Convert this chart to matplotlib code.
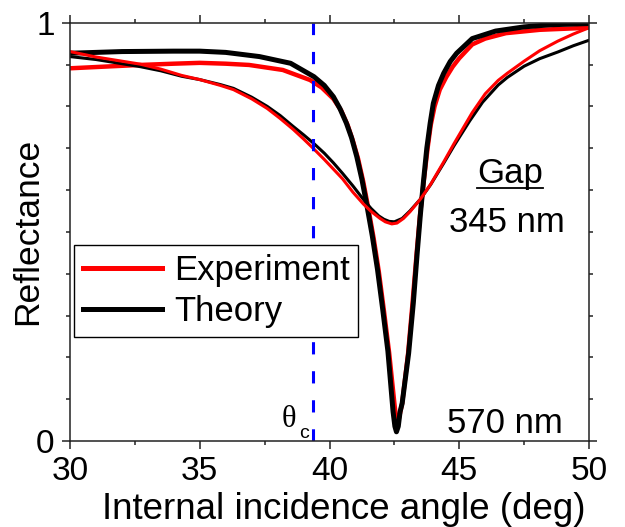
import matplotlib
matplotlib.use("Agg")
import matplotlib.pyplot as plt
from matplotlib.ticker import MultipleLocator, FixedLocator
from matplotlib.lines import Line2D

# ---- data ----
theta_570_th = [30, 32, 34, 35, 36, 37.3, 38.5, 39.4, 39.8, 40.15, 40.4, 40.65, 40.85, 41.05, 41.25, 41.45,
                41.65, 41.85, 42.05, 42.25, 42.45, 42.52, 42.58, 42.65, 42.72, 42.8, 43.05, 43.23,
                43.38, 43.5, 43.62, 43.75, 43.88, 44.0, 44.2, 44.4, 44.65, 44.9, 45.5, 46.4, 47.5, 48.5, 50]
R_570_th = [0.927, 0.931, 0.932, 0.932, 0.929, 0.919, 0.903, 0.871, 0.85, 0.823, 0.795, 0.76, 0.725, 0.68, 0.625, 0.56,
            0.49, 0.41, 0.315, 0.215, 0.07, 0.035, 0.022, 0.035, 0.07, 0.09, 0.21, 0.33,
            0.45, 0.54, 0.62, 0.70, 0.76, 0.807, 0.85, 0.879, 0.907, 0.927, 0.962, 0.98, 0.99, 0.995, 0.998]

theta_570_exp = [30, 31, 32.7, 34, 35, 36, 36.9, 38.2, 39.25, 39.7, 40.15, 40.45, 40.7, 40.9, 41.1, 41.3, 41.5,
                 41.7, 41.9, 42.1, 42.3, 42.5, 42.58, 42.66, 42.8, 43.03, 43.2, 43.36, 43.48, 43.62,
                 43.78, 43.9, 44.05, 44.25, 44.5, 44.75, 45.0, 45.5, 46.0, 46.8, 48.1, 50]
R_570_exp = [0.891, 0.894, 0.899, 0.902, 0.904, 0.902, 0.899, 0.887, 0.863, 0.845, 0.818, 0.79, 0.755, 0.718, 0.675, 0.62, 0.555,
             0.485, 0.405, 0.31, 0.21, 0.09, 0.045, 0.05, 0.09, 0.21, 0.33, 0.45, 0.535, 0.615,
             0.70, 0.755, 0.80, 0.84, 0.87, 0.895, 0.915, 0.948, 0.962, 0.975, 0.983, 0.988]

theta_345_th = [30, 31, 32, 32.7, 33.5, 34.3, 35.0, 35.8, 36.3, 37.0, 37.6, 38.1, 38.6, 39.0, 39.4,
                39.8, 40.15, 40.5, 40.9, 41.3, 41.6, 41.9, 42.1, 42.3, 42.5, 42.8, 43.1, 43.5,
                43.9, 44.4, 44.8, 45.4, 45.9, 46.5, 46.85, 47.5, 48.1, 48.8, 49.4, 50]
R_345_th = [0.919, 0.912, 0.902, 0.895, 0.885, 0.872, 0.864, 0.852, 0.843, 0.822, 0.800, 0.778, 0.752, 0.732, 0.711,
            0.688, 0.665, 0.64, 0.61, 0.578, 0.556, 0.538, 0.53, 0.525, 0.524, 0.532, 0.55, 0.578,
            0.613, 0.664, 0.706, 0.765, 0.81, 0.851, 0.869, 0.896, 0.914, 0.93, 0.945, 0.958]

theta_345_exp = [30, 31, 32, 32.7, 33.5, 34.3, 35.0, 35.8, 36.3, 37.0, 37.6, 38.1, 38.6, 39.0, 39.4,
                 39.8, 40.15, 40.5, 40.9, 41.3, 41.6, 41.95, 42.15, 42.4, 42.6, 42.85, 43.1, 43.5,
                 43.9, 44.4, 44.8, 45.5, 46.0, 46.5, 46.85, 47.5, 48.1, 48.8, 49.4, 50]
R_345_exp = [0.931, 0.918, 0.908, 0.901, 0.889, 0.874, 0.864, 0.85, 0.84, 0.818, 0.795, 0.771, 0.745, 0.722, 0.698,
             0.673, 0.650, 0.627, 0.595, 0.567, 0.549, 0.532, 0.524, 0.519, 0.521, 0.532, 0.548, 0.578,
             0.614, 0.667, 0.711, 0.785, 0.83, 0.862, 0.879, 0.908, 0.933, 0.956, 0.973, 0.988]

theta_c = 39.36
x_ticks = [30, 35, 40, 45, 50]
y_ticks = [0, 1]
legend_labels = ["Experiment", "Theory"]

# ---- figure ----
plt.rcParams['font.family'] = ['Liberation Sans', 'DejaVu Sans']
fig = plt.figure(figsize=(6.25, 5.27), dpi=100)
ax = fig.add_axes([70/625, 1 - 441/527, (589-70)/625, (441-22.7)/527])

kw = dict(solid_joinstyle='round', solid_capstyle='round')
ax.plot(theta_570_exp, R_570_exp, color='#ff0000', lw=3.2, **kw)
ax.plot(theta_570_th, R_570_th, color='black', lw=3.6, **kw)
ax.plot(theta_345_th, R_345_th, color='black', lw=2.2, **kw)
ax.plot(theta_345_exp, R_345_exp, color='#ff0000', lw=2.2, **kw)

ax.axvline(theta_c, color='#0000ff', lw=2.2, dashes=(4.0, 5.5))

ax.set_xlim(30, 50)
ax.set_ylim(0, 1)
ax.xaxis.set_major_locator(FixedLocator(x_ticks))
ax.xaxis.set_minor_locator(MultipleLocator(2.5))
ax.yaxis.set_major_locator(FixedLocator(y_ticks))
ax.yaxis.set_minor_locator(MultipleLocator(0.1))
ax.set_yticklabels(['0', '1'])

ax.tick_params(which='both', direction='out', top=True, right=True, width=1.1, labelsize=24, color='#222222')
ax.tick_params(which='major', length=6, pad=5)
ax.tick_params(which='minor', length=3)
for s in ax.spines.values():
    s.set_linewidth(1.1)
    s.set_color('#222222')

ax.set_xlabel('Internal incidence angle (deg)', fontsize=26.5)
ax.xaxis.set_label_coords(0.527, -0.122)
ax.xaxis.label.set_va('top')
ax.set_ylabel('Reflectance', fontsize=25.5, labelpad=-6)

handles = [Line2D([], [], color='#ff0000', lw=3.6), Line2D([], [], color='black', lw=3.6)]
leg = ax.legend(handles, legend_labels, loc='upper left', bbox_to_anchor=(0.0077, 0.4686),
                fontsize=25, frameon=True, fancybox=False, edgecolor='black', framealpha=1,
                handlelength=2.28, handletextpad=0.35, borderpad=0.25, labelspacing=0.25,
                borderaxespad=0)
leg.get_frame().set_linewidth(1.0)

# annotations
ax.text(46.96, 0.617, 'Gap', fontsize=25, ha='center', va='baseline')
ax.plot([45.67, 48.24], [0.604, 0.604], color='black', lw=1.3, clip_on=False)
ax.text(46.82, 0.500, '345 nm', fontsize=25, ha='center', va='baseline')
ax.text(46.76, 0.018, '570 nm', fontsize=25, ha='center', va='baseline')
ax.text(38.44, 0.034, 'θ', fontsize=22, ha='center', va='baseline', family=['Liberation Serif', 'DejaVu Serif'])
ax.text(39.02, 0.007, 'c', fontsize=14, ha='center', va='baseline')

fig.savefig('out.png', dpi=100)
